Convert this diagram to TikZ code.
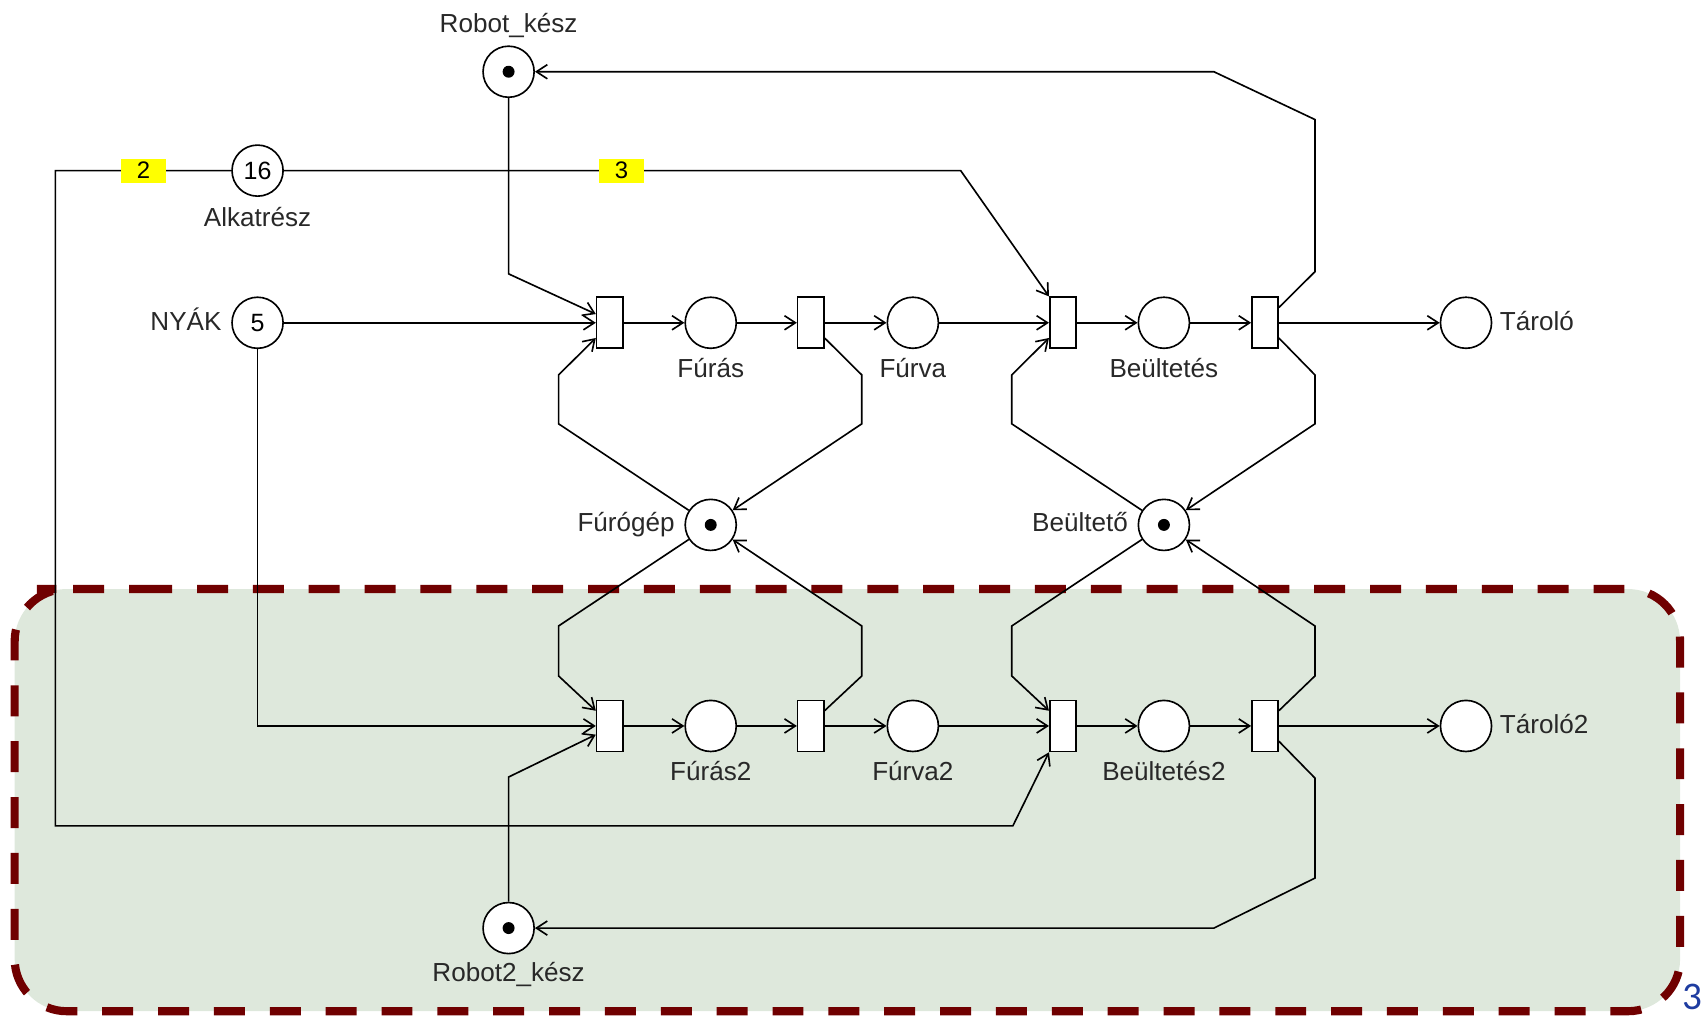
\documentclass[tikz,border=0pt]{standalone}
\usepackage{fontspec}
\setmainfont{Liberation Sans}
\newfontfamily\pagenumfont{Carlito}
\usetikzlibrary{arrows.meta}
\definecolor{regionfill}{RGB}{222,232,220}
\definecolor{regionedge}{RGB}{112,0,0}
\definecolor{labelgray}{RGB}{40,40,40}
\definecolor{weightyellow}{RGB}{255,255,0}
\definecolor{pageblue}{RGB}{30,60,160}

\begin{document}
\begin{tikzpicture}[x=1pt,y=-1pt,
  every node/.style={font=\fontsize{24}{28}\selectfont},
  place/.style={circle,draw,line width=1.5pt,fill=white,minimum size=47pt,inner sep=0pt,
                font=\fontsize{23}{26}\selectfont},
  trans/.style={rectangle,draw,line width=1.5pt,fill=white,minimum width=24pt,minimum height=47pt,inner sep=0pt},
  lbl/.style={text=labelgray,inner sep=0pt,anchor=base},
  arc/.style={line width=1.5pt,-{Straight Barb[length=10pt,width=13pt]}},
  weight/.style={fill=weightyellow,minimum width=42pt,minimum height=22pt,inner sep=0pt,
                 font=\fontsize{22}{24}\selectfont}
]
\useasboundingbox (0,0) rectangle (1568,935);

% second production line region
\fill[regionfill,rounded corners=48pt] (13.5,542) rectangle (1546,930.5);
\draw[regionedge,line width=7.5pt,dash pattern=on 28.5pt off 22.9pt,rounded corners=48pt]
  (81.9,542) -- (1546,542) -- (1546,930.5) -- (13.5,930.5) -- (13.5,542) -- cycle;

% places
\node[place] (rk)  at (468,66)   {};
\node[place] (al)  at (237,157)  {16};
\node[place] (ny)  at (237,297)  {5};
\node[place] (fu)  at (654,297)  {};
\node[place] (fv)  at (840,297)  {};
\node[place] (be)  at (1071,297) {};
\node[place] (ta)  at (1349,297) {};
\node[place] (fg)  at (654,483)  {};
\node[place] (bg)  at (1071,483) {};
\node[place] (fu2) at (654,668)  {};
\node[place] (fv2) at (840,668)  {};
\node[place] (be2) at (1071,668) {};
\node[place] (ta2) at (1349,668) {};
\node[place] (rk2) at (468,854)  {};

% tokens
\foreach \p in {rk,fg,bg,rk2} \fill (\p) circle (5.5);

% transitions
\node[trans] (t1) at (561,297)  {};
\node[trans] (t2) at (746,297)  {};
\node[trans] (t3) at (978,297)  {};
\node[trans] (t4) at (1164,297) {};
\node[trans] (u1) at (561,668)  {};
\node[trans] (u2) at (746,668)  {};
\node[trans] (u3) at (978,668)  {};
\node[trans] (u4) at (1164,668) {};

% upper line
\draw[arc] (rk) -- (468,252) -- ([yshift=8pt]t1.west);
\draw[arc] (ny) -- (t1.west);
\draw[arc] (fg) -- (514,390) -- (514,345) -- ([yshift=-14pt]t1.west);
\draw[arc] (t1) -- (fu);
\draw[arc] (fu) -- (t2);
\draw[arc] (t2) -- (fv);
\draw[arc] ([yshift=-14pt]t2.east) -- (793,345) -- (793,390) -- (fg);
\draw[arc] (fv) -- (t3);
\draw[arc] (al) -- (884,157) -- (t3.north west);
\draw[arc] (bg) -- (931,390) -- (931,345) -- ([yshift=-14pt]t3.west);
\draw[arc] (t3) -- (be);
\draw[arc] (be) -- (t4);
\draw[arc] (t4) -- (ta);
\draw[arc] ([yshift=14pt]t4.east) -- (1210,250) -- (1210,110) -- (1117,66) -- (rk);
\draw[arc] ([yshift=-14pt]t4.east) -- (1210,345) -- (1210,390) -- (bg);

% lower line
\draw[arc] (ny) -- (237,668) -- (u1.west);
\draw[arc] (rk2) -- (468,715) -- ([yshift=-8pt]u1.west);
\draw[arc] (fg) -- (514,576) -- (514,622) -- ([yshift=14pt]u1.west);
\draw[arc] (u1) -- (fu2);
\draw[arc] (fu2) -- (u2);
\draw[arc] (u2) -- (fv2);
\draw[arc] ([yshift=14pt]u2.east) -- (793,622) -- (793,576) -- (fg);
\draw[arc] (fv2) -- (u3);
\draw[arc] (al) -- (51,157) -- (51,760) -- (932,760) -- (u3.south west);
\draw[arc] (bg) -- (931,576) -- (931,622) -- ([yshift=14pt]u3.west);
\draw[arc] (u3) -- (be2);
\draw[arc] (be2) -- (u4);
\draw[arc] (u4) -- (ta2);
\draw[arc] ([yshift=14pt]u4.east) -- (1210,622) -- (1210,576) -- (bg);
\draw[arc] ([yshift=-14pt]u4.east) -- (1210,716) -- (1210,808) -- (1117,854) -- (rk2);

% arc weights
\node[weight] (w2) at (132,157) {2};
\node[weight] (w3) at (572,157) {3};

% place names
\node[lbl] (lrk) at (468,29.5) {Robot\_kész};
\node[lbl] (lal) at (237,208.5) {Alkatrész};
\node[lbl,anchor=base east] (lny) at (204,304) {NYÁK};
\node[lbl] (lfu) at (654,347) {Fúrás};
\node[lbl] (lfv) at (840,347) {Fúrva};
\node[lbl] (lbe) at (1071,347) {Beültetés};
\node[lbl,anchor=base west] (lta) at (1380,304) {Tároló};
\node[lbl,anchor=base east] (lfg) at (621,489) {Fúrógép};
\node[lbl,anchor=base east] (lbg) at (1038,489) {Beültető};
\node[lbl] (lfu2) at (654,718) {Fúrás2};
\node[lbl] (lfv2) at (840,718) {Fúrva2};
\node[lbl] (lbe2) at (1071,718) {Beültetés2};
\node[lbl,anchor=base west] (lta2) at (1380,675) {Tároló2};
\node[lbl] (lrk2) at (468,903) {Robot2\_kész};

% slide number
\node[text=pageblue,font=\pagenumfont\fontsize{36}{40}\selectfont,anchor=base west,inner sep=0pt] (pg) at (1548,929) {3};
\end{tikzpicture}
\end{document}
